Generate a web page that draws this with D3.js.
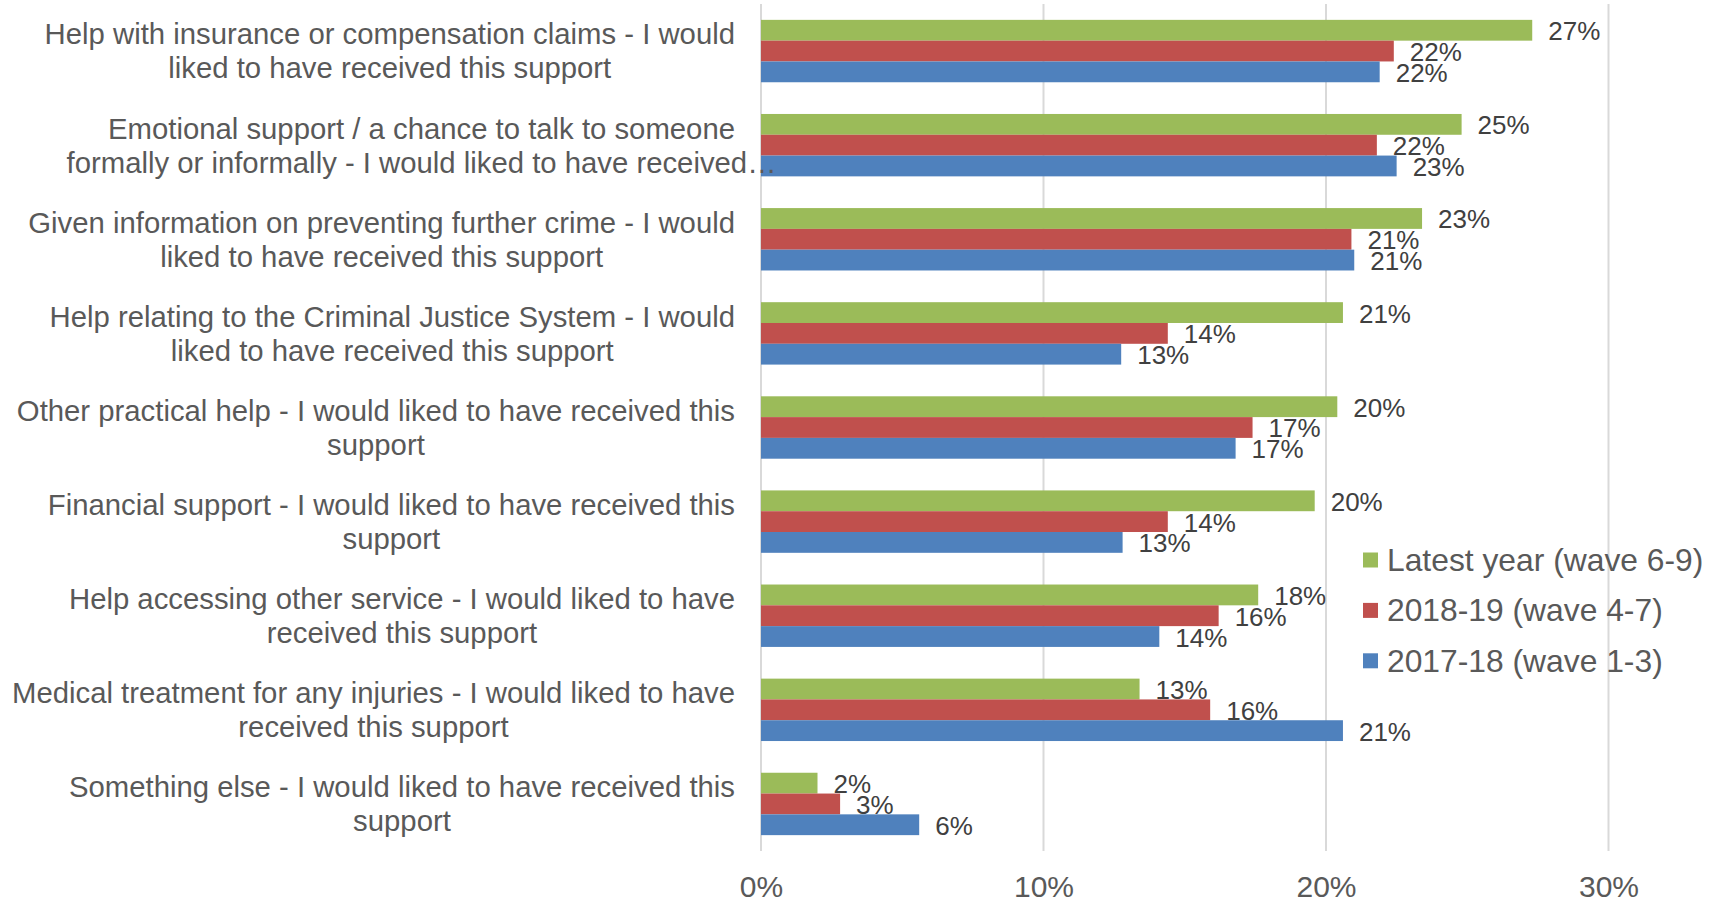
<!DOCTYPE html>
<html>
<head>
<meta charset="utf-8">
<script src="https://cdn.jsdelivr.net/npm/d3@7"></script>
<style>
  html, body { margin: 0; padding: 0; background: #ffffff; }
  svg { display: block; font-family: "Liberation Sans", Arial, sans-serif; }
</style>
</head>
<body>
<svg id="chart" width="1717" height="903"></svg>
<script>
// ---- Data ----
const categories = [
  "Help with insurance or compensation claims - I would|liked to have received this support",
  "Emotional support / a chance to talk to someone|formally or informally - I would liked to have received…",
  "Given information on preventing further crime - I would|liked to have received this support",
  "Help relating to the Criminal Justice System - I would|liked to have received this support",
  "Other practical help - I would liked to have received this|support",
  "Financial support - I would liked to have received this|support",
  "Help accessing other service - I would liked to have|received this support",
  "Medical treatment for any injuries - I would liked to have|received this support",
  "Something else - I would liked to have received this|support"
];
const seriesNames = ["Latest year (wave 6-9)", "2018-19 (wave 4-7)", "2017-18 (wave 1-3)"];
const latestYear = [27.3, 24.8, 23.4, 20.6, 20.4, 19.6, 17.6, 13.4, 2.0];
const y2018_19   = [22.4, 21.8, 20.9, 14.4, 17.4, 14.4, 16.2, 15.9, 2.8];
const y2017_18   = [21.9, 22.5, 21.0, 12.75, 16.8, 12.8, 14.1, 20.6, 5.6];
const xTicks = [0, 10, 20, 30];
const seriesColors = ["#9bbb59", "#c0504d", "#4f81bd"];

const seriesValues = [latestYear, y2018_19, y2017_18];

// ---- Layout ----
const svg = d3.select("#chart");
const plotLeft = 761, plotRight = 1608.5, plotTop = 4, plotBottom = 851;

const x = d3.scaleLinear().domain([0, 30]).range([plotLeft, plotRight]);
const y = d3.scaleBand().domain(d3.range(categories.length))
  .range([plotTop, plotBottom]).paddingInner(0.337).paddingOuter(0.1685);
const ySub = d3.scaleBand().domain(d3.range(seriesNames.length)).range([0, y.bandwidth()]);

// gridlines
const xAxis = d3.axisBottom(x).tickValues(xTicks).tickSize(0).tickFormat(d => d + "%");
svg.append("g").selectAll("line").data(xTicks).join("line")
  .attr("x1", d => x(d)).attr("x2", d => x(d))
  .attr("y1", plotTop).attr("y2", plotBottom)
  .attr("stroke", "#d9d9d9").attr("stroke-width", 2);

// axis labels
const ax = svg.append("g").attr("transform", `translate(0,${plotBottom})`).call(xAxis);
ax.select(".domain").remove();
ax.selectAll("text").attr("font-size", 30).attr("fill", "#595959")
  .attr("font-family", "'Liberation Sans', Arial, sans-serif")
  .attr("dy", null).attr("y", 46);

// bars
const groups = svg.append("g").selectAll("g").data(categories).join("g")
  .attr("transform", (d, i) => `translate(0,${y(i)})`);

seriesValues.forEach((vals, s) => {
  groups.append("rect")
    .attr("x", x(0))
    .attr("y", ySub(s))
    .attr("width", (d, i) => x(vals[i]) - x(0))
    .attr("height", ySub.bandwidth())
    .attr("fill", seriesColors[s]);
});
seriesValues.forEach((vals, s) => {
  groups.append("text")
    .attr("x", (d, i) => x(vals[i]) + 16)
    .attr("y", ySub(s) + ySub.bandwidth() / 2 + 10)
    .attr("font-size", 26).attr("fill", "#404040")
    .text((d, i) => Math.round(vals[i]) + "%");
});

// category labels
const labelRight = 735, lineH = 34, labelFont = 29.3;
groups.each(function (d, i) {
  const g = d3.select(this);
  const lines = d.split("|");
  const tg = g.append("g");
  const texts = tg.selectAll("text").data(lines).join("text")
    .attr("font-size", labelFont).attr("fill", "#595959")
    .attr("text-anchor", "middle")
    .attr("y", (l, k) => y.bandwidth() / 2 + (k - (lines.length - 1) / 2) * lineH + 10.4)
    .text(l => l);
  const w = d3.max(texts.nodes().slice(0, 1), n => n.getComputedTextLength());
  texts.attr("x", labelRight - w / 2);
});

// legend
const legend = svg.append("g").selectAll("g").data(seriesNames).join("g")
  .attr("transform", (d, i) => `translate(1363,${560 + i * 50.4})`);
legend.append("rect").attr("x", 0).attr("y", -7.5).attr("width", 15).attr("height", 15)
  .attr("fill", (d, i) => seriesColors[i]);
legend.append("text").attr("x", 24).attr("y", 11).attr("font-size", 31.8).attr("fill", "#595959")
  .text(d => d);
</script>
</body>
</html>
